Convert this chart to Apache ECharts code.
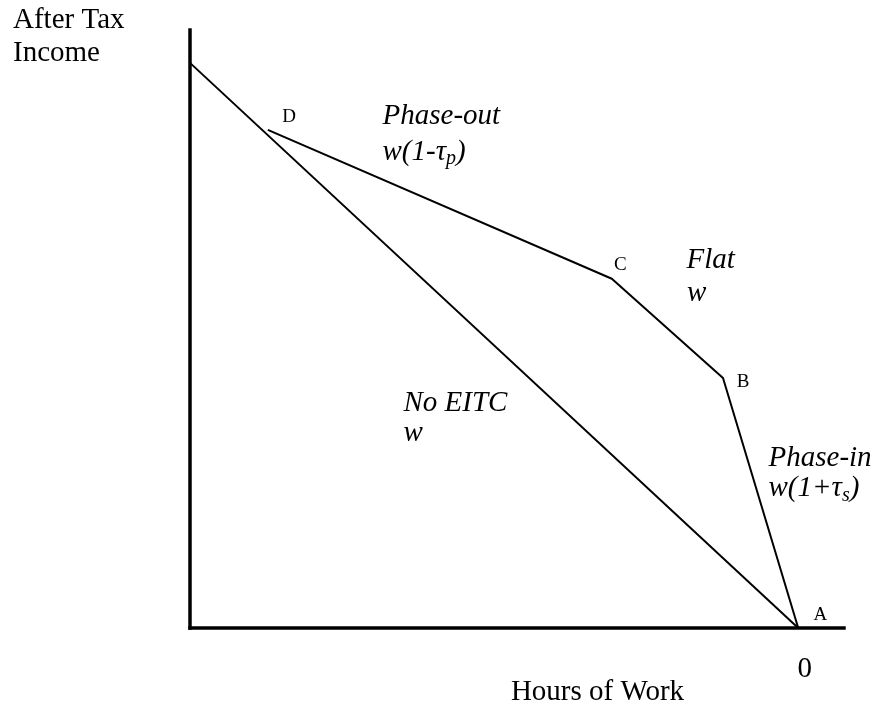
<!DOCTYPE html>
<html><head><meta charset="utf-8">
<script src="https://cdn.jsdelivr.net/npm/echarts@6/dist/echarts.min.js"></script>
<style>html,body{margin:0;padding:0;background:#fff}#c{width:877px;height:711px}</style>
</head><body><div id="c"></div>
<script>
// ---- data ----
const xTickValues = [0];
const noEitcHours = [93, 0];
const noEitcIncome = [94.5, 0];
const eitcPoints = ['D', 'C', 'B', 'A'];
const eitcHours = [81.1, 28.5, 11.5, 0];
const eitcIncome = [83.3, 58.4, 41.8, 0];
const segmentNames = ['Phase-out', 'Flat', 'No EITC', 'Phase-in'];
const segmentRates = ['w(1-τ_p)', 'w', 'w', 'w(1+τ_s)'];
const yAxisTitle = 'After Tax\nIncome';
const xAxisTitle = 'Hours of Work';

// ---- layout (annotation anchors in data units, label offsets in px) ----
const nameAnchors = [[63.64, 85.6], [17.16, 61.5], [60.43, 37.5], [4.62, 28.4]];
const rateAnchors = [[63.64, 79.6], [17.1, 55.9], [60.43, 32.5], [4.62, 23.3]];
const pointLabelOffsets = [[14, -12.4], [1.7, -13.7], [13.3, 4.3], [14.8, -13.4]];

const FONT = '"Liberation Serif", "Times New Roman", serif';
const chart = echarts.init(document.getElementById('c'), null, {renderer: 'canvas'});

function richRate(s) {
  return '{m|' + s.replace(/_(\w)/, '}{s|$1}{m|') + '}';
}
const annotData = [];
segmentNames.forEach((n, i) => annotData.push({value: nameAnchors[i], text: '{m|' + n + '}'}));
segmentRates.forEach((r, i) => annotData.push({value: rateAnchors[i], text: richRate(r)}));

const transparent = 'rgba(0,0,0,0)';
const option = {
  animation: false,
  backgroundColor: '#fff',
  grid: {left: 190, right: 33, top: 30, bottom: 83},
  xAxis: {
    type: 'value', inverse: true, min: -7, max: 93,
    axisLine: {show: true, onZero: false, lineStyle: {color: '#000', width: 3.5, cap: 'square'}},
    axisTick: {show: false}, splitLine: {show: false},
    axisLabel: {customValues: xTickValues, fontFamily: FONT, fontSize: 29, color: '#000', margin: 27, padding: [0, 0, 0, 13]}
  },
  yAxis: {
    type: 'value', min: 0, max: 100,
    axisLine: {show: true, onZero: false, lineStyle: {color: '#000', width: 3.5, cap: 'square'}},
    axisTick: {show: false}, splitLine: {show: false}, axisLabel: {show: false}
  },
  graphic: [
    {type: 'text', left: 13, top: 4, style: {text: yAxisTitle, fontFamily: FONT, fontSize: 29, fill: '#000', lineHeight: 33}},
    {type: 'text', x: 597.5, y: 692, style: {text: xAxisTitle, fontFamily: FONT, fontSize: 29, fill: '#000', align: 'center', verticalAlign: 'middle'}}
  ],
  series: [
    {
      type: 'line', name: 'No EITC', silent: true, symbol: 'none',
      lineStyle: {color: '#000', width: 2},
      data: noEitcHours.map((h, i) => [h, noEitcIncome[i]])
    },
    {
      type: 'line', name: 'EITC', silent: true, symbol: 'circle', symbolSize: 1,
      itemStyle: {color: transparent},
      lineStyle: {color: '#000', width: 2},
      data: eitcHours.map((h, i) => ({
        name: eitcPoints[i], value: [h, eitcIncome[i]],
        label: {show: true, position: 'right', distance: 0, align: 'left', verticalAlign: 'middle',
          offset: pointLabelOffsets[i], formatter: eitcPoints[i],
          fontFamily: FONT, fontSize: 19, color: '#000', textBorderWidth: 0}
      }))
    },
    {
      type: 'scatter', silent: true, symbol: 'circle', symbolSize: 1,
      itemStyle: {color: transparent},
      data: annotData.map(d => ({value: d.value, label: {formatter: d.text}})),
      label: {
        show: true, position: 'right', distance: 0, align: 'left', verticalAlign: 'middle',
        color: '#000', opacity: 1, textBorderWidth: 0,
        rich: {
          m: {fontFamily: FONT, fontStyle: 'italic', fontSize: 29, color: '#000', lineHeight: 34, verticalAlign: 'middle'},
          s: {fontFamily: FONT, fontStyle: 'italic', fontSize: 20, color: '#000', lineHeight: 22, verticalAlign: 'bottom'}
        }
      }
    }
  ]
};
chart.setOption(option);
</script></body></html>
